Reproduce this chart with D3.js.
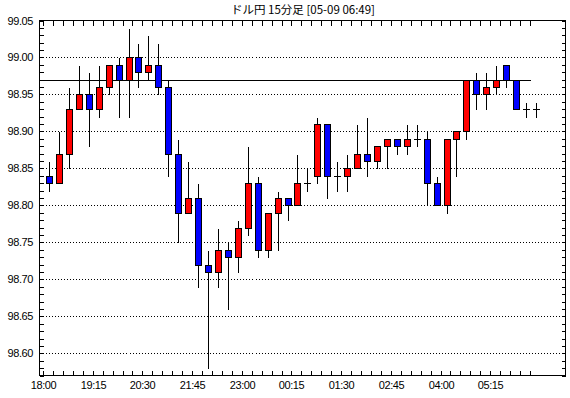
<!DOCTYPE html>
<html>
<head>
<meta charset="utf-8">
<script src="https://cdn.jsdelivr.net/npm/d3@7"></script>
<style>
  body { margin: 0; background: #fff; }
  svg { display: block; }
  text { font-family: "Liberation Sans", Arial, sans-serif; font-size: 11px; fill: #000; }
</style>
</head>
<body>
<svg width="570" height="398"></svg>
<script>
const width = 570, height = 398;
const svg = d3.select("svg");

const title = "ドル円 15分足 [05-09 06:49]";
const refLine = 98.97;

// 15-minute bars from 18:00 to 06:15
const times = d3.range(50).map(i => {
  const m = (18 * 60 + i * 15) % 1440;
  return d3.format("02d")(Math.floor(m / 60)) + ":" + d3.format("02d")(m % 60);
});
const xLabels = ["18:00", "19:15", "20:30", "21:45", "23:00", "00:15", "01:30", "02:45", "04:00", "05:15"];
const yTicks = [98.60, 98.65, 98.70, 98.75, 98.80, 98.85, 98.90, 98.95, 99.00, 99.05];

const opens  = [98.84, 98.83, 98.87, 98.93, 98.95, 98.93, 98.96, 98.99, 98.97, 99.00,
                98.98, 98.99, 98.96, 98.87, 98.79, 98.81, 98.72, 98.71, 98.74, 98.73,
                98.77, 98.83, 98.74, 98.79, 98.81, 98.80, 98.83, 98.84, 98.91, 98.84,
                98.84, 98.85, 98.87, 98.86, 98.88, 98.89, 98.88, 98.89, 98.89, 98.83,
                98.80, 98.89, 98.90, 98.97, 98.95, 98.96, 98.99, 98.97, 98.93, 98.93];
const highs  = [98.86, 98.90, 98.96, 98.99, 98.98, 98.99, 98.99, 99.00, 99.04, 99.02,
                99.03, 99.02, 98.97, 98.89, 98.86, 98.83, 98.74, 98.77, 98.75, 98.78,
                98.88, 98.84, 98.79, 98.82, 98.81, 98.87, 98.85, 98.92, 98.91, 98.86,
                98.87, 98.91, 98.92, 98.88, 98.89, 98.89, 98.91, 98.91, 98.90, 98.84,
                98.89, 98.90, 98.97, 98.98, 98.98, 98.99, 98.99, 98.97, 98.94, 98.94];
const lows   = [98.82, 98.83, 98.85, 98.93, 98.88, 98.92, 98.95, 98.92, 98.92, 98.96,
                98.97, 98.95, 98.84, 98.75, 98.79, 98.69, 98.58, 98.69, 98.66, 98.71,
                98.76, 98.73, 98.73, 98.74, 98.78, 98.80, 98.82, 98.83, 98.81, 98.82,
                98.82, 98.85, 98.84, 98.85, 98.85, 98.87, 98.87, 98.88, 98.80, 98.80,
                98.79, 98.84, 98.89, 98.93, 98.93, 98.95, 98.96, 98.93, 98.92, 98.92];
const closes = [98.83, 98.87, 98.93, 98.95, 98.93, 98.96, 98.99, 98.97, 99.00, 98.98,
                98.99, 98.96, 98.87, 98.79, 98.81, 98.72, 98.71, 98.74, 98.73, 98.77,
                98.83, 98.74, 98.79, 98.81, 98.80, 98.83, 98.83, 98.91, 98.84, 98.84,
                98.85, 98.87, 98.86, 98.88, 98.89, 98.88, 98.89, 98.89, 98.83, 98.80,
                98.89, 98.90, 98.97, 98.95, 98.96, 98.97, 98.97, 98.93, 98.93, 98.93];

const bars = times.map((t, i) => ({ t, i, o: opens[i], h: highs[i], l: lows[i], c: closes[i] }));

const plotL = 39.5, plotR = 565.5, plotT = 20.5, plotB = 375.5;
const x = d3.scaleLinear().domain([0, times.length - 1]).range([49, 536]);
const tickX = i => Math.round(x(i) - 6) + 0.5;
const y = d3.scaleLinear().domain([98.57, 99.05]).range([plotB, plotT]);
const py = v => Math.round(y(v)) + 0.5;

const g = svg.append("g").attr("shape-rendering", "crispEdges");

// dotted grid
g.append("g").selectAll("line").data(yTicks.filter(v => v < 99.05)).join("line")
  .attr("x1", plotL).attr("x2", plotR).attr("y1", py).attr("y2", py)
  .attr("stroke", "#000").attr("stroke-dasharray", "1,2");

// reference line
g.append("line")
  .attr("x1", tickX(0)).attr("x2", tickX(times.length - 1))
  .attr("y1", py(refLine)).attr("y2", py(refLine))
  .attr("stroke", "#000");

// minor y ticks on both sides
const minor = d3.range(9857, 9906).map(v => v / 100);
g.append("g").selectAll("line").data(minor).join("line")
  .attr("x1", plotL).attr("x2", plotL + 4).attr("y1", py).attr("y2", py).attr("stroke", "#000");
g.append("g").selectAll("line").data(minor).join("line")
  .attr("x1", plotR - 4).attr("x2", plotR).attr("y1", py).attr("y2", py).attr("stroke", "#000");

// x ticks top & bottom
g.append("g").selectAll("line").data(bars).join("line")
  .attr("x1", d => tickX(d.i)).attr("x2", d => tickX(d.i))
  .attr("y1", plotT).attr("y2", plotT + 5).attr("stroke", "#000");
g.append("g").selectAll("line").data(bars).join("line")
  .attr("x1", d => tickX(d.i)).attr("x2", d => tickX(d.i))
  .attr("y1", plotB - 5).attr("y2", plotB).attr("stroke", "#000");

// candles
const candle = g.append("g").selectAll("g").data(bars).join("g");
candle.append("line")
  .attr("x1", d => Math.round(x(d.i)) + 0.5).attr("x2", d => Math.round(x(d.i)) + 0.5)
  .attr("y1", d => py(d.h)).attr("y2", d => py(d.l))
  .attr("stroke", "#000");
candle.filter(d => d.o !== d.c).append("rect")
  .attr("x", d => Math.round(x(d.i)) - 2.5)
  .attr("y", d => py(Math.max(d.o, d.c)))
  .attr("width", 6)
  .attr("height", d => py(Math.min(d.o, d.c)) - py(Math.max(d.o, d.c)))
  .attr("fill", d => d.c > d.o ? "#ff0000" : "#0000ff")
  .attr("stroke", "#000");
candle.filter(d => d.o === d.c).append("line")
  .attr("x1", d => Math.round(x(d.i)) - 3).attr("x2", d => Math.round(x(d.i)) + 4)
  .attr("y1", d => py(d.c)).attr("y2", d => py(d.c))
  .attr("stroke", "#000");

// frame
g.append("rect").attr("x", plotL).attr("y", plotT)
  .attr("width", plotR - plotL).attr("height", plotB - plotT)
  .attr("fill", "none").attr("stroke", "#000");

// labels
svg.append("g").selectAll("text").data(yTicks).join("text")
  .attr("x", 33).attr("y", d => y(d) + 4)
  .attr("text-anchor", "end").attr("letter-spacing", "-0.4")
  .text(d => d.toFixed(2));

svg.append("g").selectAll("text").data(xLabels).join("text")
  .attr("x", d => tickX(times.indexOf(d)))
  .attr("y", 389)
  .attr("text-anchor", "middle").attr("letter-spacing", "-0.4")
  .text(d => d);

svg.append("text")
  .attr("x", 303).attr("y", 14)
  .attr("text-anchor", "middle")
  .style("font-family", "'Noto Sans CJK JP', sans-serif").style("font-size", "11.5px")
  .text(title);
</script>
</body>
</html>
